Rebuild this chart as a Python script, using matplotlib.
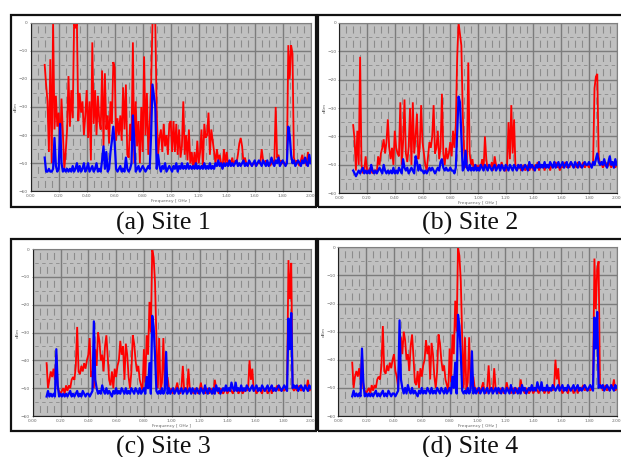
import numpy as np
import matplotlib
matplotlib.use("Agg")
import matplotlib.pyplot as plt
from matplotlib.patches import Rectangle

plt.rcParams['lines.scale_dashes'] = False

# frequency in GHz, one reading every 10 MHz from 0.10 to 2.00
freq = np.arange(100, 2001, 10) / 1000

red_a = [-15, -22, -28, -46, -13, -50, 0, -38, -26, -37,
         -32, -45, -27, -40, -52, -46, -38, -19, -37, -24,
         -34, 0, -2, 0, -35, -25, -32, -28, -40, -33,
         -24, -41, -28, -49, -7, -36, -24, -40, -26, -35,
         -38, -17, -44, -18, -38, -33, -43, -28, -36, -14,
         -16, -42, -34, -40, -33, -42, -23, -38, -22, -47,
         -48, -36, -42, -7, -50, -28, -44, -35, -50, -30,
         -46, -12, -40, -25, -47, -36, -22, 0, 0, 0,
         -32, -47, -41, -38, -46, -36, -44, -40, -47, -36,
         -35, -46, -35, -46, -36, -47, -38, -48, -44, -28,
         -47, -40, -49, -38, -50, -46, -52, -46, -52, -42,
         -50, -46, -38, -52, -36, -41, -40, -32, -47, -38,
         -42, -46, -50, -45, -49, -47, -50, -52, -45, -50,
         -46, -51, -49, -50, -48, -51, -49, -50, -47, -43,
         -41, -44, -50, -48, -50, -51, -50, -50, -51, -50,
         -50, -51, -50, -50, -50, -45, -49, -50, -49, -50,
         -50, -51, -50, -49, -50, -30, -48, -47, -50, -49,
         -50, -50, -51, -49, -8, -20, -8, -11, -48, -50,
         -49, -50, -51, -49, -47, -50, -48, -51, -46, -50, -49]
blue_a = [-48, -53, -53, -52, -53, -53, -52, -41, -51, -53,
          -52, -36, -50, -53, -52, -53, -52, -53, -52, -53,
          -51, -53, -52, -50, -53, -51, -53, -52, -50, -53,
          -52, -50, -53, -52, -51, -53, -52, -50, -53, -52,
          -53, -49, -44, -52, -46, -53, -52, -46, -42, -37,
          -43, -52, -53, -52, -51, -53, -52, -53, -48, -52,
          -53, -52, -50, -33, -42, -53, -52, -51, -53, -52,
          -51, -52, -53, -52, -51, -52, -40, -22, -26, -30,
          -52, -47, -51, -53, -51, -52, -50, -53, -52, -51,
          -52, -53, -51, -52, -50, -53, -51, -52, -50, -52,
          -51, -52, -50, -52, -51, -52, -51, -52, -50, -52,
          -51, -52, -51, -52, -50, -52, -51, -52, -50, -52,
          -51, -52, -50, -51, -49, -51, -50, -52, -50, -51,
          -50, -51, -49, -51, -50, -51, -50, -49, -51, -50,
          -51, -50, -49, -51, -50, -51, -49, -50, -51, -50,
          -49, -51, -50, -49, -50, -51, -49, -50, -51, -49,
          -51, -50, -48, -50, -51, -49, -50, -48, -51, -50,
          -49, -50, -51, -50, -37, -40, -47, -50, -49, -51,
          -50, -49, -50, -51, -49, -50, -48, -50, -51, -47, -50]

red_b = [-36, -41, -52, -38, -50, -12, -50, -53, -52, -47,
         -52, -53, -51, -52, -53, -52, -52, -53, -47, -50,
         -46, -44, -41, -46, -42, -34, -44, -48, -44, -50,
         -38, -44, -46, -47, -28, -50, -42, -27, -46, -49,
         -44, -30, -50, -28, -46, -40, -32, -48, -44, -29,
         -42, -46, -50, -52, -47, -42, -44, -40, -29, -46,
         -44, -38, -48, -44, -25, -46, -50, -44, -48, -46,
         -42, -47, -38, -44, -36, -12, 0, -4, -8, -32,
         -45, -51, -49, -14, -46, -50, -48, -52, -51, -50,
         -52, -50, -51, -48, -52, -40, -48, -52, -50, -51,
         -49, -52, -47, -50, -51, -50, -52, -49, -51, -52,
         -52, -50, -35, -48, -29, -46, -34, -51, -52, -51,
         -50, -52, -51, -50, -52, -51, -50, -52, -51, -50,
         -52, -50, -51, -49, -52, -50, -51, -50, -52, -50,
         -51, -50, -52, -50, -51, -50, -49, -51, -50, -52,
         -50, -51, -50, -49, -51, -50, -51, -49, -50, -51,
         -50, -51, -49, -50, -51, -50, -49, -51, -50, -50,
         -51, -50, -50, -49, -23, -19, -18, -47, -50, -49,
         -51, -50, -49, -51, -50, -49, -51, -50, -49, -51, -50]
blue_b = [-52, -53, -54, -53, -52, -53, -52, -51, -53, -52,
          -53, -52, -53, -50, -52, -53, -52, -53, -52, -51,
          -52, -53, -50, -52, -53, -52, -53, -52, -53, -51,
          -53, -52, -53, -51, -52, -53, -48, -51, -52, -51,
          -53, -52, -51, -52, -53, -47, -49, -52, -50, -52,
          -52, -53, -52, -53, -52, -51, -52, -51, -52, -53,
          -52, -51, -52, -49, -48, -51, -52, -51, -52, -52,
          -51, -52, -52, -53, -51, -38, -26, -28, -40, -52,
          -51, -45, -51, -52, -50, -52, -51, -52, -50, -52,
          -51, -52, -50, -51, -52, -50, -51, -52, -50, -51,
          -52, -51, -50, -52, -51, -50, -52, -50, -51, -52,
          -50, -51, -52, -50, -51, -52, -50, -51, -52, -50,
          -51, -50, -52, -51, -50, -51, -52, -49, -51, -50,
          -51, -52, -50, -51, -49, -51, -50, -51, -49, -51,
          -50, -51, -49, -50, -51, -49, -51, -50, -49, -51,
          -50, -49, -51, -50, -49, -51, -50, -49, -50, -51,
          -49, -50, -51, -49, -50, -51, -50, -49, -50, -50,
          -49, -50, -51, -49, -50, -48, -46, -49, -50, -49,
          -50, -48, -50, -51, -49, -47, -50, -49, -51, -48, -50]

red_c = [-41, -50, -47, -44, -46, -43, -47, -38, -50, -51,
         -52, -51, -50, -52, -49, -51, -49, -50, -47, -46,
         -47, -42, -28, -44, -45, -42, -44, -41, -43, -40,
         -38, -32, -46, -44, -50, -36, -42, -30, -33, -40,
         -38, -44, -35, -31, -39, -47, -49, -44, -50, -43,
         -46, -42, -40, -33, -38, -35, -47, -34, -38, -46,
         -50, -44, -31, -34, -40, -44, -42, -47, -49, -51,
         -36, -48, -31, -38, -19, -30, 0, -3, -12, -32,
         -50, -32, -51, -48, -32, -50, -48, -46, -50, -51,
         -50, -52, -51, -50, -48, -51, -52, -50, -42, -51,
         -50, -52, -43, -50, -52, -51, -52, -50, -51, -52,
         -51, -48, -51, -50, -52, -51, -50, -52, -50, -51,
         -52, -47, -50, -51, -52, -50, -51, -52, -51, -50,
         -52, -51, -50, -51, -52, -50, -51, -50, -52, -51,
         -50, -52, -51, -50, -51, -50, -40, -47, -43, -51,
         -50, -52, -51, -50, -51, -52, -50, -51, -50, -52,
         -51, -50, -52, -50, -51, -50, -49, -51, -50, -51,
         -50, -51, -50, -49, -4, -18, -5, -50, -51, -49,
         -51, -50, -49, -51, -50, -51, -49, -50, -47, -51, -50]
blue_c = [-53, -51, -53, -52, -53, -52, -53, -36, -49, -53,
          -52, -53, -52, -53, -52, -53, -52, -51, -53, -52,
          -53, -52, -51, -53, -52, -53, -51, -52, -53, -52,
          -52, -53, -52, -51, -26, -47, -50, -52, -51, -52,
          -49, -51, -52, -50, -52, -51, -52, -53, -51, -52,
          -50, -52, -51, -52, -50, -51, -52, -50, -52, -51,
          -52, -50, -51, -52, -50, -51, -52, -50, -52, -51,
          -50, -52, -46, -50, -41, -52, -24, -28, -38, -51,
          -52, -51, -52, -50, -52, -51, -37, -52, -50, -52,
          -51, -50, -52, -51, -50, -52, -51, -50, -52, -51,
          -50, -52, -51, -50, -52, -50, -51, -52, -50, -51,
          -52, -50, -51, -52, -49, -51, -52, -50, -51, -52,
          -50, -52, -49, -51, -50, -52, -51, -50, -51, -49,
          -51, -50, -51, -48, -50, -51, -48, -51, -50, -51,
          -49, -51, -50, -51, -49, -50, -51, -50, -49, -51,
          -50, -49, -51, -50, -51, -49, -50, -51, -50, -49,
          -51, -50, -49, -51, -50, -51, -50, -49, -50, -51,
          -50, -49, -50, -51, -25, -36, -23, -50, -49, -50,
          -49, -51, -50, -49, -50, -51, -49, -50, -51, -49, -50]

red_d = [-41, -50, -46, -44, -46, -43, -47, -38, -50, -51,
         -52, -51, -50, -52, -49, -51, -49, -50, -47, -46,
         -47, -42, -28, -44, -45, -42, -44, -41, -43, -40,
         -38, -44, -46, -50, -35, -32, -38, -30, -33, -40,
         -38, -44, -35, -31, -39, -48, -49, -44, -50, -43,
         -46, -42, -40, -33, -38, -35, -47, -34, -38, -46,
         -50, -44, -31, -34, -40, -44, -42, -47, -49, -51,
         -36, -48, -31, -38, -19, -30, 0, -3, -12, -32,
         -50, -32, -51, -48, -32, -50, -48, -46, -50, -51,
         -50, -52, -51, -50, -48, -51, -52, -50, -42, -51,
         -50, -52, -43, -50, -52, -51, -52, -50, -51, -52,
         -51, -48, -51, -50, -52, -51, -50, -52, -50, -51,
         -52, -47, -50, -51, -52, -50, -51, -52, -51, -50,
         -52, -51, -50, -51, -52, -50, -51, -50, -52, -51,
         -50, -52, -51, -50, -51, -50, -40, -47, -43, -51,
         -50, -52, -51, -50, -51, -52, -50, -51, -50, -52,
         -51, -50, -52, -50, -51, -50, -49, -51, -50, -51,
         -50, -51, -50, -49, -4, -22, -8, -5, -50, -49,
         -51, -50, -49, -51, -50, -51, -49, -50, -47, -51, -50]
blue_d = [-53, -51, -53, -52, -53, -52, -53, -36, -48, -53,
          -52, -53, -52, -53, -52, -53, -52, -51, -53, -52,
          -53, -52, -51, -53, -52, -53, -51, -52, -53, -52,
          -52, -53, -52, -51, -26, -47, -50, -52, -50, -52,
          -49, -51, -52, -50, -52, -51, -52, -53, -51, -52,
          -50, -52, -51, -52, -50, -51, -52, -50, -52, -51,
          -52, -50, -51, -52, -50, -51, -52, -50, -52, -51,
          -50, -52, -46, -50, -41, -52, -24, -28, -38, -51,
          -52, -51, -52, -50, -52, -51, -37, -52, -50, -52,
          -51, -50, -52, -51, -50, -52, -51, -50, -52, -51,
          -50, -52, -51, -50, -52, -50, -51, -52, -50, -51,
          -52, -50, -51, -52, -49, -51, -52, -50, -51, -52,
          -50, -52, -49, -51, -50, -52, -51, -50, -51, -49,
          -51, -50, -51, -48, -50, -51, -48, -51, -50, -51,
          -49, -51, -50, -51, -49, -50, -51, -50, -49, -51,
          -50, -49, -51, -50, -51, -49, -50, -51, -50, -49,
          -51, -50, -49, -51, -50, -51, -50, -49, -50, -51,
          -50, -49, -50, -51, -25, -36, -23, -50, -49, -50,
          -49, -51, -50, -49, -50, -51, -49, -50, -51, -49, -50]

captions = ["(a) Site 1", "(b) Site 2", "(c) Site 3", "(d) Site 4"]
x_ticks = [0.00, 0.20, 0.40, 0.60, 0.80, 1.00, 1.20, 1.40, 1.60, 1.80, 2.00]
y_ticks = [0, -10, -20, -30, -40, -50, -60]

W, H = 621, 457
fig = plt.figure(figsize=(W / 100, H / 100), dpi=100)


def box(l, t, r, b):
    # pixels from the top left -> figure fractions
    return [l / W, 1 - b / H, (r - l) / W, (b - t) / H]


def panel(frame, axbox, red, blue, caption, cap_x, cap_y):
    l, t, r, b = frame
    fig.add_artist(Rectangle((l / W, 1 - b / H), (r - l) / W, (b - t) / H,
                             transform=fig.transFigure, fill=False,
                             edgecolor="#111111", linewidth=1.6))

    ax = fig.add_axes(box(*axbox))
    ax.set_facecolor("#c0c0c0")
    ax.set_xlim(0, 2)
    ax.set_ylim(-60, 0)
    ax.set_xticks(x_ticks)
    ax.set_xticklabels(["%.2f" % v for v in x_ticks])
    ax.set_yticks(y_ticks)
    ax.set_xticks(np.arange(0, 2.01, 0.05), minor=True)
    ax.set_yticks(np.arange(-55, 0, 10), minor=True)

    # dashes of the minor grid, sized to this panel (points)
    w_pt = (axbox[2] - axbox[0]) * 0.72
    h_pt = (axbox[3] - axbox[1]) * 0.72
    v_per = h_pt / 12
    h_per = w_pt / 40
    ax.grid(which="major", color="#7c7c7c", linewidth=1.0)
    ax.xaxis.grid(which="minor", color="#8c8c8c", linewidth=0.8,
                  linestyle=(v_per * 0.75, (v_per * 0.5, v_per * 0.5)))
    ax.yaxis.grid(which="minor", color="#929292", linewidth=0.7,
                  linestyle=(h_per * 0.75, (h_per * 0.5, h_per * 0.5)))
    ax.set_axisbelow(True)

    ax.plot(freq, red, color="#ff0000", linewidth=1.3, solid_joinstyle="miter")
    ax.plot(freq, blue, color="#0000ff", linewidth=1.6)

    for s in ax.spines.values():
        s.set_color("#808080")
        s.set_linewidth(0.8)
    ax.spines["left"].set_color("#222222")
    ax.spines["bottom"].set_color("#222222")

    ax.tick_params(which="minor", length=0)
    ax.tick_params(which="major", length=1, width=0.4, color="#555555",
                   labelsize=3.2, labelcolor="#666666", pad=1)
    ax.set_xlabel("Frequency [ GHz ]", fontsize=3.2, color="#666666", labelpad=0.6)
    ax.set_ylabel("dBm", fontsize=3.2, color="#666666", labelpad=0.6)

    fig.text(cap_x / W, 1 - cap_y / H, caption, family="Liberation Serif",
             fontsize=18.6, color="#111111", ha="center", va="center")


panel((11, 15, 316, 206.5), (30.7, 22.7, 310.7, 191.3), red_a, blue_a, captions[0], 163, 223.5)
panel((318, 15, 623, 206.5), (339.3, 22.7, 616.7, 193.3), red_b, blue_b, captions[1], 470, 223.5)
panel((11, 239, 316, 430.5), (32.7, 249, 310.7, 416), red_c, blue_c, captions[2], 163, 447)
panel((318, 239, 623, 430.5), (338.3, 247.3, 616.7, 416), red_d, blue_d, captions[3], 470, 447)

fig.savefig("out.png", dpi=100)
